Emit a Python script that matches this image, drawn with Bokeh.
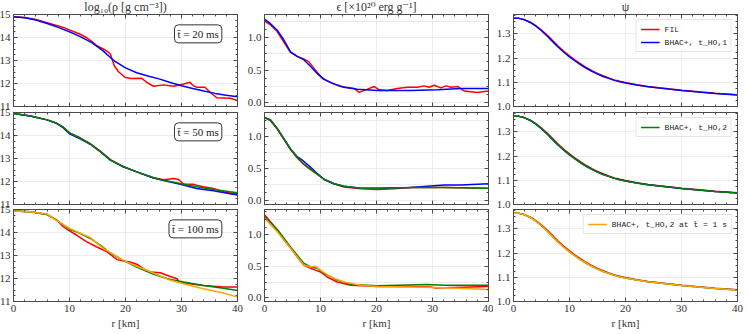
from bokeh.plotting import figure
from bokeh.layouts import row as brow, column as bcol
from bokeh.models import (Range1d, LinearAxis, SingleIntervalTicker, Label, Legend, LegendItem,
                          CustomJSTickFormatter, PrintfTickFormatter)
from bokeh.embed import file_html
from bokeh.resources import INLINE

# ---------------- data ----------------
col_titles = ["log\u2081\u2080(\u03c1 [g cm\u207b\u00b3])", "\u03f5 [\u00d710\u00b2\u2070 erg g\u207b\u00b9]", "\u03c8"]
time_labels = ["t\u0304 = 20 ms", "t\u0304 = 50 ms", "t\u0304 = 100 ms"]

# t = 20 ms
rho20_fil_r = [0, 2, 4, 6, 8, 9, 10, 11.9, 13.1, 14, 14.9, 16.1, 17.0, 17.3, 17.6, 18, 18.75, 19.9, 21, 22.9, 23.8, 25, 26.8, 28.6, 30.4, 31.5, 32.1, 32.7, 34.2, 35.1, 36.3, 38.7, 40]
rho20_fil_v = [14.9, 14.87, 14.78, 14.64, 14.5, 14.43, 14.33, 14.14, 13.99, 13.82, 13.64, 13.49, 13.35, 13.28, 13.06, 12.77, 12.51, 12.27, 12.22, 12.23, 12.05, 11.88, 11.94, 11.88, 11.98, 12.05, 11.91, 11.84, 11.84, 11.62, 11.38, 11.36, 11.26]
rho20_ho1_r = [0, 2, 4, 6, 8, 10, 12, 14, 16, 18, 20, 22, 24, 26, 28, 30, 32, 34, 36, 38, 40]
rho20_ho1_v = [14.9, 14.86, 14.76, 14.61, 14.44, 14.25, 14.03, 13.78, 13.42, 12.98, 12.68, 12.47, 12.33, 12.2, 12.04, 11.9, 11.78, 11.67, 11.57, 11.49, 11.42]

eps20_fil_r = [0, 1.07, 2.27, 3.46, 4.65, 5.84, 7, 7.9, 9.1, 10.3, 11.8, 13.6, 16, 16.9, 17.5, 18.4, 19.6, 20.5, 21.9, 23.7, 25.5, 27.3, 28.5, 29.4, 30.3, 31.5, 32.4, 33.3, 34.5, 35.7, 38, 40]
eps20_fil_v = [1.25, 1.19, 1.09, 0.93, 0.77, 0.71, 0.67, 0.63, 0.5, 0.38, 0.31, 0.25, 0.22, 0.16, 0.18, 0.21, 0.25, 0.2, 0.19, 0.22, 0.24, 0.24, 0.26, 0.24, 0.27, 0.23, 0.26, 0.24, 0.25, 0.18, 0.16, 0.18]
eps20_ho1_r = [0, 1.07, 2.27, 3.46, 4.65, 5.84, 7, 8.2, 9.4, 10.6, 12.4, 14.2, 16.6, 20.2, 26.1, 30.9, 35, 40]
eps20_ho1_v = [1.28, 1.21, 1.11, 0.96, 0.78, 0.71, 0.66, 0.56, 0.45, 0.36, 0.29, 0.24, 0.21, 0.19, 0.19, 0.2, 0.22, 0.22]

# t = 50 ms
rho50_fil_r = [0, 3, 6, 7.7, 8.9, 10.1, 11.9, 13.7, 15.5, 17.3, 19.6, 22, 25, 26.8, 28.6, 29.5, 30.4, 32.1, 32.7, 33.9, 35.7, 37.5, 40]
rho50_fil_v = [14.96, 14.85, 14.68, 14.53, 14.36, 14.1, 13.9, 13.65, 13.32, 12.95, 12.65, 12.42, 12.16, 12.08, 12.13, 12.09, 11.88, 11.88, 11.84, 11.77, 11.7, 11.55, 11.45]
rho50_ho1_r = [0, 3, 6, 7.7, 8.9, 10.1, 11.9, 13.7, 15.5, 17.3, 19.6, 22, 25, 26.8, 29.8, 32.7, 35.7, 38.7, 40]
rho50_ho1_v = [14.96, 14.85, 14.68, 14.53, 14.33, 14.06, 13.86, 13.62, 13.3, 12.93, 12.64, 12.42, 12.15, 12.04, 11.88, 11.7, 11.6, 11.47, 11.41]
rho50_ho2_r = [0, 3, 6, 7.7, 8.9, 10.1, 11.9, 13.7, 15.5, 17.3, 19.6, 22, 25, 26.8, 29.8, 32.7, 35.7, 38.7, 40]
rho50_ho2_v = [14.96, 14.85, 14.68, 14.53, 14.36, 14.1, 13.88, 13.63, 13.3, 12.93, 12.64, 12.42, 12.16, 12.06, 11.91, 11.77, 11.65, 11.55, 11.51]

eps50_fil_r = [0, 1.07, 2.27, 3.46, 4.65, 5.84, 7, 8.2, 9.4, 10.6, 12.4, 14.2, 17.2, 20.2, 23, 26.1, 32.1, 40]
eps50_fil_v = [1.29, 1.24, 1.11, 0.95, 0.79, 0.66, 0.56, 0.48, 0.41, 0.33, 0.26, 0.21, 0.18, 0.17, 0.18, 0.2, 0.2, 0.19]
eps50_ho1_r = [0, 1.07, 2.27, 3.46, 4.65, 5.84, 6.7, 8.2, 9.4, 10.6, 12.4, 14.2, 17.2, 20.2, 26.1, 29.1, 32.1, 35, 40]
eps50_ho1_v = [1.29, 1.25, 1.12, 0.96, 0.8, 0.68, 0.63, 0.52, 0.42, 0.33, 0.26, 0.22, 0.19, 0.19, 0.2, 0.22, 0.24, 0.24, 0.26]
eps50_ho2_r = [0, 1.07, 2.27, 3.46, 4.65, 5.84, 7, 8.2, 9.4, 10.6, 12.4, 14.2, 17.2, 20.2, 26.1, 32.1, 40]
eps50_ho2_v = [1.29, 1.25, 1.12, 0.96, 0.8, 0.67, 0.57, 0.49, 0.41, 0.33, 0.26, 0.22, 0.19, 0.19, 0.2, 0.2, 0.19]

# t = 100 ms
rho100_fil_r = [0, 3, 6, 7.7, 8.9, 9.8, 11.3, 13.1, 14.9, 16.7, 18.5, 19.6, 20.8, 22, 23.2, 24.4, 26.2, 28, 29.2, 29.6, 31.5, 33.9, 37.5, 40]
rho100_fil_v = [14.93, 14.9, 14.78, 14.54, 14.25, 14.1, 13.88, 13.59, 13.37, 13.16, 12.82, 12.76, 12.72, 12.62, 12.43, 12.28, 12.25, 12.09, 11.99, 11.85, 11.77, 11.7, 11.63, 11.63]
rho100_ho2_r = [0, 3, 6, 7.7, 10.1, 11.9, 13.7, 15.5, 17.3, 19.6, 22, 25, 28, 30.4, 33.9, 37.5, 40]
rho100_ho2_v = [14.93, 14.9, 14.78, 14.54, 14.13, 13.96, 13.74, 13.45, 13.11, 12.79, 12.5, 12.18, 11.96, 11.85, 11.7, 11.58, 11.48]
rho100_ho2_1s_r = [0, 3, 6, 7.7, 10.1, 13.7, 16.1, 19.6, 22, 25, 28, 30.4, 33.9, 37.5, 40]
rho100_ho2_1s_v = [14.93, 14.9, 14.8, 14.52, 14.17, 13.78, 13.3, 12.79, 12.53, 12.24, 11.92, 11.77, 11.55, 11.37, 11.19]

eps100_fil_r = [0, 1.07, 2.27, 3.46, 4.65, 5.84, 7, 8.2, 9.1, 10, 11.2, 13, 15.4, 20.2, 26.1, 29.7, 30.6, 32.1, 40]
eps100_fil_v = [1.32, 1.21, 1.08, 0.92, 0.79, 0.65, 0.52, 0.47, 0.44, 0.41, 0.33, 0.25, 0.2, 0.18, 0.18, 0.17, 0.155, 0.16, 0.18]
eps100_ho2_r = [0, 2.27, 4.65, 7, 8.2, 9.4, 10.6, 13, 15.4, 20.2, 29.1, 32.1, 40]
eps100_ho2_v = [1.29, 1.09, 0.81, 0.55, 0.49, 0.47, 0.39, 0.28, 0.21, 0.19, 0.21, 0.2, 0.2]
eps100_ho2_1s_r = [0, 2.27, 4.65, 7, 8.2, 9.1, 10, 11.8, 14.2, 17.2, 20.2, 26.1, 32.1, 40]
eps100_ho2_1s_v = [1.27, 1.05, 0.79, 0.52, 0.49, 0.5, 0.44, 0.33, 0.25, 0.2, 0.18, 0.17, 0.16, 0.13]

# psi (nearly identical for all runs)
psi_r = [0, 1, 2, 3, 4, 5, 6, 7, 8, 9, 10, 11, 12, 13, 14, 15, 16, 17, 18, 19, 20, 22, 24, 26, 28, 30, 32, 34, 36, 38, 40]
psi_fil_v = [1.365, 1.364, 1.358, 1.348, 1.334, 1.316, 1.295, 1.272, 1.249, 1.228, 1.209, 1.192, 1.176, 1.161, 1.148, 1.137, 1.127, 1.118, 1.110, 1.104, 1.099, 1.090, 1.083, 1.077, 1.072, 1.067, 1.063, 1.059, 1.055, 1.052, 1.049]
psi_bhac_v = [1.365, 1.364, 1.358, 1.347, 1.332, 1.313, 1.291, 1.268, 1.245, 1.224, 1.205, 1.188, 1.172, 1.158, 1.145, 1.134, 1.124, 1.116, 1.108, 1.102, 1.097, 1.089, 1.082, 1.076, 1.071, 1.066, 1.062, 1.058, 1.054, 1.051, 1.048]

legend_labels = ["FIL", "BHAC+, t_HO,1", "BHAC+, t_HO,2", "BHAC+, t_HO,2 at t\u0304 = 1 s"]

RED, BLUE, GREEN, ORANGE = "#ff0000", "#0000ff", "#008000", "#ffa500"

# panels: list of (r, v, color, legend index)
panels = [
    [
        [(rho20_fil_r, rho20_fil_v, RED, 0), (rho20_ho1_r, rho20_ho1_v, BLUE, 1)],
        [(eps20_fil_r, eps20_fil_v, RED, 0), (eps20_ho1_r, eps20_ho1_v, BLUE, 1)],
        [(psi_r, psi_fil_v, RED, 0), (psi_r, psi_bhac_v, BLUE, 1)],
    ],
    [
        [(rho50_fil_r, rho50_fil_v, RED, 0), (rho50_ho1_r, rho50_ho1_v, BLUE, 1), (rho50_ho2_r, rho50_ho2_v, GREEN, 2)],
        [(eps50_fil_r, eps50_fil_v, RED, 0), (eps50_ho1_r, eps50_ho1_v, BLUE, 1), (eps50_ho2_r, eps50_ho2_v, GREEN, 2)],
        [(psi_r, psi_fil_v, RED, 0), (psi_r, psi_bhac_v, BLUE, 1), (psi_r, psi_bhac_v, GREEN, 2)],
    ],
    [
        [(rho100_fil_r, rho100_fil_v, RED, 0), (rho100_ho2_r, rho100_ho2_v, GREEN, 2), (rho100_ho2_1s_r, rho100_ho2_1s_v, ORANGE, 3)],
        [(eps100_fil_r, eps100_fil_v, RED, 0), (eps100_ho2_r, eps100_ho2_v, GREEN, 2), (eps100_ho2_1s_r, eps100_ho2_1s_v, ORANGE, 3)],
        [(psi_r, psi_fil_v, RED, 0), (psi_r, psi_bhac_v, GREEN, 2), (psi_r, psi_bhac_v, ORANGE, 3)],
    ],
]
legend_shown = [[0, 1], [2], [3]]

y_ranges = [
    [(11, 15), (-0.055, 1.35), (1.0, 1.38)],
    [(11, 15), (-0.063, 1.367), (1.0, 1.38)],
    [(11, 15), (-0.06, 1.405), (1.0, 1.38)],
]
y_ticks = [(1.0, 4), (0.5, 4), (0.1, 4)]
y_formats = ["%d", "%.1f", "%.1f"]

# ---------------- layout / style ----------------
SERIF = "Liberation Serif, DejaVu Serif, serif"
MONO = "Liberation Mono, DejaVu Sans Mono, monospace"
FRAME = "#4a4a4a"
GRID = "#e8e8e8"
COL_LEFT = [17, 18, 19]
COL_RIGHT = [7, 5, 9]
ROW_TOP = [18, 8, 8]
ROW_BOTTOM = [8, 8, 28]
ROW_CSS_SHIFT = [None, "-10px", "-11px"]   # rows overlap so edge tick labels are not clipped
FW, FH = 224, 92

blank = CustomJSTickFormatter(code="return '';")


def style_axis(ax, labels):
    ax.axis_line_color = FRAME
    ax.axis_line_width = 1
    ax.major_tick_line_color = FRAME
    ax.minor_tick_line_color = FRAME
    ax.major_tick_in = 4
    ax.major_tick_out = 0
    ax.minor_tick_in = 2
    ax.minor_tick_out = 0
    if labels:
        ax.major_label_text_font = SERIF
        ax.major_label_text_font_size = "11px"
        ax.major_label_text_color = "#333333"
        ax.major_label_standoff = 3
    else:
        ax.formatter = blank
        ax.major_label_text_font_size = "1px"
        ax.major_label_standoff = 0


row_layouts = []
for i in range(3):
    figs = []
    for j in range(3):
        lo, hi = y_ranges[i][j]
        p = figure(x_range=Range1d(0, 40), y_range=Range1d(lo, hi),
                   frame_width=FW, frame_height=FH,
                   min_border_left=COL_LEFT[j], min_border_right=COL_RIGHT[j],
                   min_border_top=ROW_TOP[i], min_border_bottom=ROW_BOTTOM[i],
                   output_backend="svg", toolbar_location=None)
        p.background_fill_color = "white"
        p.border_fill_alpha = 0
        p.outline_line_color = FRAME

        xt = SingleIntervalTicker(interval=10, num_minor_ticks=5)
        yt = SingleIntervalTicker(interval=y_ticks[j][0], num_minor_ticks=y_ticks[j][1])
        p.xaxis.ticker = xt
        p.yaxis.ticker = yt
        style_axis(p.xaxis[0], i == 2)
        style_axis(p.yaxis[0], True)
        p.yaxis.formatter = PrintfTickFormatter(format=y_formats[j])
        if i == 2:
            p.xaxis.axis_label = "r [km]"
            p.xaxis.axis_label_text_font = SERIF
            p.xaxis.axis_label_text_font_style = "normal"
            p.xaxis.axis_label_text_font_size = "11px"
            p.xaxis.axis_label_text_color = "#333333"
            p.xaxis.axis_label_standoff = 2
        top = LinearAxis(ticker=xt)
        style_axis(top, False)
        p.add_layout(top, "above")
        right = LinearAxis(ticker=yt)
        style_axis(right, False)
        p.add_layout(right, "right")

        p.xgrid.grid_line_color = GRID
        p.ygrid.grid_line_color = GRID
        p.xgrid.grid_line_width = 0.8
        p.ygrid.grid_line_width = 0.8
        if j == 1:
            p.ygrid.ticker = SingleIntervalTicker(interval=0.25)

        if i == 0:
            p.title.text = col_titles[j]
            p.title.align = "center"
            p.title.text_font = SERIF
            p.title.text_font_style = "normal"
            p.title.text_font_size = "12px"
            p.title.text_color = "#333333"
            p.title.standoff = 2

        rends = {}
        for (r, v, c, li) in panels[i][j]:
            rends[li] = p.line(r, v, line_color=c, line_width=1.5)

        if j == 0:
            p.add_layout(Label(x=37.2, y=14.55, text=time_labels[i], anchor="top_right",
                               text_font=SERIF, text_font_size="11px", text_color="#222222",
                               border_line_color="#333333", border_line_width=1,
                               background_fill_color="white", padding=3, border_radius=4))
        if j == 2:
            items = [LegendItem(label=legend_labels[k], renderers=[rends[k]]) for k in legend_shown[i]]
            leg = Legend(items=items, location="top_right",
                         label_text_font=MONO, label_text_font_size="8px",
                         label_text_color="#222222",
                         glyph_width=19, glyph_height=10, label_height=10,
                         label_standoff=5, spacing=3, padding=4, margin=5,
                         border_line_color="#cccccc", border_line_width=1,
                         background_fill_color="white", background_fill_alpha=0.9)
            p.add_layout(leg)
        figs.append(p)
    rl = brow(*figs)
    if ROW_CSS_SHIFT[i]:
        rl.styles = {"margin-top": ROW_CSS_SHIFT[i]}
    row_layouts.append(rl)

layout = bcol(*row_layouts)
layout.margin = (-4, 0, 0, -4)

open("out.html", "w").write(file_html(layout, INLINE))
